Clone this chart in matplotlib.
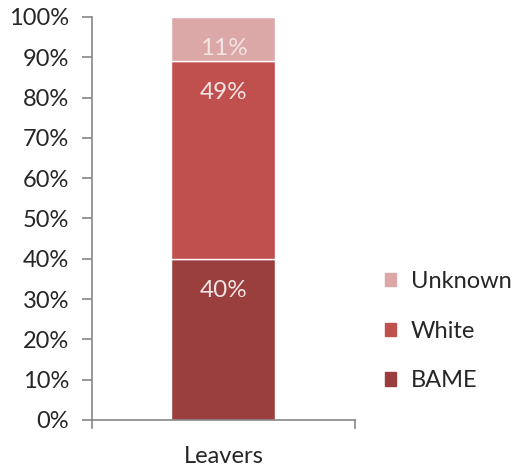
import matplotlib.pyplot as plt
from matplotlib.patches import Patch

plt.rcParams['font.family'] = ['Lato', 'DejaVu Sans']

category = ['Leavers']
groups = ['BAME', 'White', 'Unknown']
shares = [40, 49, 11]
colors = ['#9B3F3E', '#C0504D', '#DBA7A7']

fig = plt.figure(figsize=(5.19, 4.69), dpi=100)
ax = fig.add_axes([0.177, 0.1045, 0.507, 0.8595])

bottom = 0
for name, val, col in zip(groups, shares, colors):
    ax.bar(0, val, width=0.395, bottom=bottom, color=col,
           edgecolor='white', linewidth=1, label=name)
    ax.text(0, bottom + val - 7.8, f'{val}%', ha='center', va='center',
            color='#F4E4E4', fontsize=17.5)
    bottom += val

ax.set_xlim(-0.5, 0.5)
ax.set_ylim(0, 100)
ax.set_yticks(range(0, 101, 10))
ax.set_yticklabels([f'{v}%' for v in range(0, 101, 10)], fontsize=17, color='#262626')
ax.set_xticks([0])
ax.set_xticklabels(category, fontsize=17, color='#262626')
ax.tick_params(axis='x', length=0, pad=19)
ax.tick_params(axis='y', length=7.5, color='#868686', width=1.2, pad=9)
for s in ['top', 'right']:
    ax.spines[s].set_visible(False)
for s in ['left', 'bottom']:
    ax.spines[s].set_color('#868686')
    ax.spines[s].set_linewidth(1.2)
# small tick marks at the category boundaries
for xb in (-0.5, 0.5):
    ax.plot([xb, xb], [0, -2], color='#868686', lw=1.2, clip_on=False)

handles = [Patch(color=c, label=g) for g, c in zip(groups, colors)][::-1]
fig.legend(handles=handles, loc='center left', bbox_to_anchor=(0.7, 0.294),
           frameon=False, fontsize=17, handlelength=0.5, handleheight=0.5,
           handletextpad=0.6, labelspacing=1.22, labelcolor='#262626')

fig.savefig('out.png', dpi=100)
